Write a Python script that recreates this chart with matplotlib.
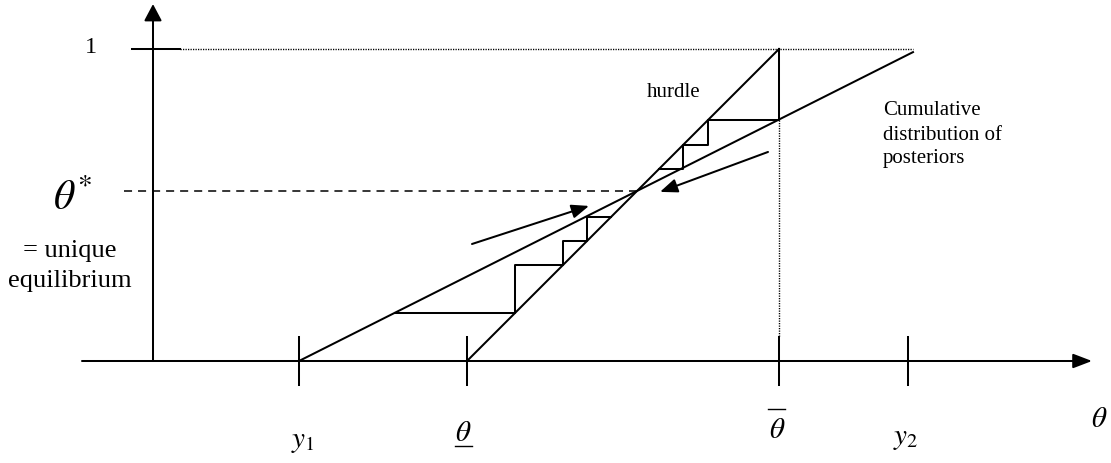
import numpy as np
import matplotlib
matplotlib.use('Agg')
import matplotlib.pyplot as plt
from matplotlib.patches import FancyArrowPatch

plt.rcParams['font.family'] = ['Liberation Serif', 'DejaVu Serif']
plt.rcParams['mathtext.fontset'] = 'stix'
plt.rcParams['lines.scale_dashes'] = False

# positions on the theta axis (horizontal units), probabilities on the vertical
tick_x = [299, 467, 779, 908]          # y1, theta_low, theta_high, y2
tick_labels = [r'$y_{\mathrm{1}}$', r'$\theta$', r'$\theta$', r'$y_{\mathrm{2}}$']
cdf_x = [299, 913]                      # cumulative distribution of posteriors
cdf_p = [0.0, 0.99]
hurdle_x = [467, 779]                   # hurdle line
hurdle_p = [0.0, 1.0]
lower_steps = [0.154, 0.308, 0.385, 0.462]
upper_steps = [0.692, 0.615]
arrow_left = [(472, 0.375), (589, 0.497)]
arrow_right = [(768, 0.670), (660, 0.542)]

LW = 1.45
fig = plt.figure(figsize=(11.11, 4.64), dpi=100)
ax = fig.add_axes([0, 0, 1, 1])
ax.set_xlim(0, 1111)
ax.set_ylim((362 - 464) / 312, 362 / 312)
ax.axis('off')

cdf_slope = (cdf_p[1] - cdf_p[0]) / (cdf_x[1] - cdf_x[0])
def cdf(x):
    return cdf_p[0] + (x - cdf_x[0]) * cdf_slope
def cdf_inv(p):
    return cdf_x[0] + (p - cdf_p[0]) / cdf_slope
def hurdle_inv(p):
    return hurdle_x[0] + (p - hurdle_p[0]) * (hurdle_x[1] - hurdle_x[0]) / (hurdle_p[1] - hurdle_p[0])

def arrow(a, b, hl, hw):
    ax.add_patch(FancyArrowPatch(a, b, arrowstyle='-|>,head_length=%g,head_width=%g' % (hl, hw),
                                 mutation_scale=1, lw=LW, color='k', shrinkA=0, shrinkB=0))

# axes
arrow((82, 0), (1092, 0), 11.5, 4.4)
arrow((153, 0), (153, 1.144), 10.2, 5.4)
for x in tick_x:
    ax.plot([x, x], [0.077, -0.077], color='k', lw=LW)
ax.plot([132, 180], [1, 1], color='k', lw=LW)

# reference lines
ax.plot([180, cdf_x[1]], [1, 1], color='k', lw=1.0, linestyle=(0, (0.9, 0.9)))
ax.plot([hurdle_x[1], hurdle_x[1]], [cdf(hurdle_x[1]), 0.077], color='k', lw=1.0, linestyle=(0, (0.9, 0.9)))

# main lines
ax.plot(cdf_x, cdf_p, color='k', lw=LW)
ax.plot(hurdle_x, hurdle_p, color='k', lw=LW)

# equilibrium
hs = (hurdle_p[1] - hurdle_p[0]) / (hurdle_x[1] - hurdle_x[0])
x_star = (cdf_p[0] - cdf_slope * cdf_x[0] + hs * hurdle_x[0]) / (hs - cdf_slope)
p_star = cdf(x_star)
ax.plot([124, x_star], [p_star, p_star], color='k', lw=1.1, linestyle=(0, (5.8, 4.3)))

# lower staircase
xs = [cdf_inv(lower_steps[0])]
ps = [lower_steps[0]]
for i, p in enumerate(lower_steps):
    xs.append(hurdle_inv(p)); ps.append(p)
    if i + 1 < len(lower_steps):
        xs.append(hurdle_inv(p)); ps.append(lower_steps[i + 1])
ax.plot(xs, ps, color='k', lw=LW)

# upper staircase
top = hurdle_x[1]
p_top = cdf(top)
xs = [top, top, hurdle_inv(p_top)]
ps = [1.0, p_top, p_top]
for p in upper_steps:
    xs += [xs[-1], hurdle_inv(p)]
    ps += [p, p]
ax.plot(xs, ps, color='k', lw=LW)

arrow(arrow_left[0], arrow_left[1], 10.5, 4.2)
arrow(arrow_right[0], arrow_right[1], 10.5, 4.2)

def py(px):
    return (362 - px) / 312

# labels
ax.text(91, py(53), '1', fontsize=17.5, ha='center', va='baseline')
ax.text(53, py(210), r'$\theta^{*}$', fontsize=30, ha='left', va='baseline')
ax.text(70, py(257), '= unique', fontsize=19, ha='center', va='baseline')
ax.text(70, py(287), 'equilibrium', fontsize=19, ha='center', va='baseline')
ax.text(647, py(97), 'hurdle', fontsize=15, ha='left', va='baseline')
for s, b in zip(['Cumulative', 'distribution of', 'posteriors'], [115, 140, 163]):
    ax.text(883, py(b), s, fontsize=15, ha='left', va='baseline')

label_base = [447, 441, 438, 444]
label_dx = [4, -4, -2, -2]
for x, s, b, dx in zip(tick_x, tick_labels, label_base, label_dx):
    ax.text(x + dx, py(b), s, fontsize=21, ha='center', va='baseline')
ax.plot([455, 472], [py(447), py(447)], color='k', lw=1.0)
ax.plot([768, 785], [py(410), py(410)], color='k', lw=1.0)
ax.text(1099, py(427), r'$\theta$', fontsize=21, ha='center', va='baseline')

fig.savefig('out.png', dpi=100)
